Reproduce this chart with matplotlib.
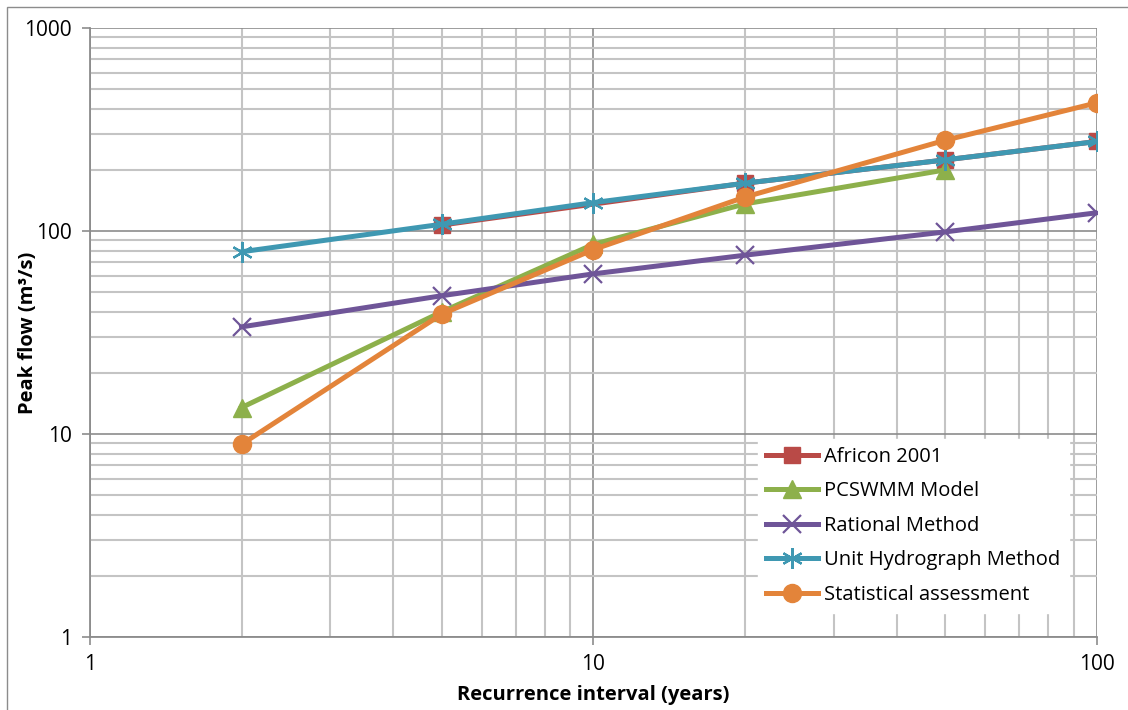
import matplotlib
matplotlib.use('Agg')
import matplotlib.pyplot as plt
from matplotlib.patches import Rectangle
from matplotlib.ticker import LogLocator, FixedLocator, NullFormatter

plt.rcParams['font.family'] = ['Open Sans', 'DejaVu Sans']

# recurrence intervals (years) and peak flows (m3/s)
x_africon = [5, 20, 50, 100]
africon = [107, 172, 224, 276]
x_pcswmm = [2, 5, 10, 20, 50]
pcswmm = [13.5, 40, 86, 136, 200]
x_rational = [2, 5, 10, 20, 50, 100]
rational = [33.7, 48, 61.5, 76, 99, 123]
x_unit = [2, 5, 10, 20, 50, 100]
unit_hydro = [79, 108, 138, 172, 224, 276]
x_stat = [2, 5, 10, 20, 50, 100]
statistical = [8.9, 39, 81, 147, 280, 428]

fig = plt.figure(figsize=(11.28, 7.1), dpi=100)
ax = fig.add_axes([0.0798, 0.1028, 0.8927, 0.8578])

fig.patches.append(Rectangle((7 / 1128, -0.1), 1.2, 1.1 - 7 / 710,
                             transform=fig.transFigure, fill=False,
                             edgecolor='#8c8c8c', lw=1.0))

lw = 3.6
ax.plot(x_africon, africon, color='#B94A47', lw=lw, marker='s', ms=12,
        label='Africon 2001', zorder=3)
ax.plot(x_pcswmm, pcswmm, color='#8DB04B', lw=lw, marker='^', ms=13,
        label='PCSWMM Model', zorder=4)
ax.plot(x_rational, rational, color='#6F5598', lw=lw, marker='x', ms=13,
        mew=1.6, label='Rational Method', zorder=5)
ax.plot(x_unit, unit_hydro, color='#3F98B2', lw=lw, marker=(6, 2, 0), ms=15,
        mew=1.6, label='Unit Hydrograph Method', zorder=6)
ax.plot(x_stat, statistical, color='#E3843A', lw=lw, marker='o', ms=13,
        label='Statistical assessment', zorder=7)

ax.set_xscale('log')
ax.set_yscale('log')
ax.set_xlim(1, 100)
ax.set_ylim(1, 1000)

ax.xaxis.set_major_locator(FixedLocator([1, 10, 100]))
ax.yaxis.set_major_locator(FixedLocator([1, 10, 100, 1000]))
ax.xaxis.set_major_formatter(plt.FuncFormatter(lambda v, p: '%g' % v))
ax.yaxis.set_major_formatter(plt.FuncFormatter(lambda v, p: '%g' % v))
ax.xaxis.set_minor_locator(LogLocator(base=10, subs=range(2, 10)))
ax.yaxis.set_minor_locator(LogLocator(base=10, subs=range(2, 10)))
ax.xaxis.set_minor_formatter(NullFormatter())
ax.yaxis.set_minor_formatter(NullFormatter())

ax.grid(which='major', color='#8c8c8c', lw=1.2, zorder=0)
ax.grid(which='minor', color='#c4c4c4', lw=1.5, zorder=0)
ax.set_axisbelow(True)

for s in ['top', 'right']:
    ax.spines[s].set_visible(False)
for s in ['left', 'bottom']:
    ax.spines[s].set_color('#8c8c8c')
    ax.spines[s].set_linewidth(1.3)

ax.tick_params(which='major', length=6, width=1.2, color='#8c8c8c',
               labelsize=15, pad=7)
ax.tick_params(axis='x', which='major', pad=6)
ax.tick_params(which='minor', length=0)

ax.set_xlabel('Recurrence interval (years)', fontsize=14.5, fontweight='bold')
ax.xaxis.set_label_coords(0.5, -0.078)
ax.set_ylabel('Peak flow (m³/s)', fontsize=14.5, fontweight='bold')
ax.yaxis.set_label_coords(-0.052, 0.5)

leg = ax.legend(loc='lower right', bbox_to_anchor=(0.972, 0.04), fontsize=14.5,
                frameon=True, fancybox=False, edgecolor='white',
                framealpha=1.0, handlelength=2.6, handletextpad=0.3,
                labelspacing=0.72, borderpad=0.4, borderaxespad=0)

fig.savefig('out.png', dpi=100)
